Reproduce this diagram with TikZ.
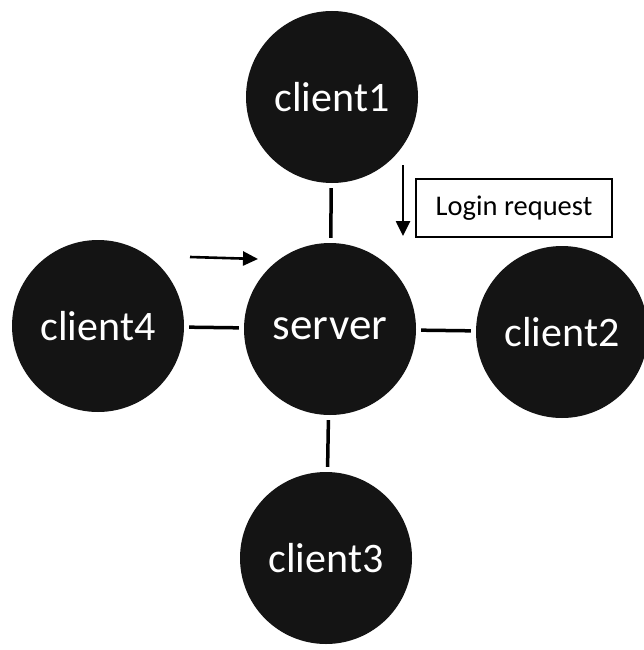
\documentclass[tikz,border=0pt]{standalone}
\usepackage{fontspec}
\setmainfont{Carlito}
\usetikzlibrary{arrows.meta}
\definecolor{disc}{gray}{0.08}
\tikzset{
  host/.style={circle, fill=disc, draw=none, minimum size=172pt, inner sep=0pt,
               text=white, font=\fontsize{42}{46}\selectfont},
  link/.style={line width=3.5pt, shorten <=5pt, shorten >=5pt},
  flow/.style={line width=2.6pt, -{Triangle[length=15pt,width=14pt]}},
  tag/.style={draw, line width=1.6pt, minimum width=196pt, minimum height=58pt,
              inner sep=0pt, font=\fontsize{28.5}{32}\selectfont}
}
\begin{document}
\begin{tikzpicture}[x=1pt,y=-1pt]
  \useasboundingbox (0,0) rectangle (644,650);
  % hosts
  \node[host] (server)  at (330,329) {\fontsize{45}{50}\selectfont server};
  \node[host] (client1) at (332,97)  {client1};
  \node[host] (client2) at (562,332) {client2};
  \node[host] (client3) at (326,558) {client3};
  \node[host] (client4) at (98,326)  {client4};
  % links to the server
  \draw[link] (client1) -- (server);
  \draw[link] (server) -- (client2);
  \draw[link] (server) -- (client3);
  \draw[link] (client4) -- (server);
  % request label and direction arrows
  \node[tag] (req) at (514,208) {Login request};
  \coordinate (d1) at (403,165);
  \coordinate (d2) at (403,236);
  \draw[flow] (d1) -- (d2);
  \coordinate (h1) at (190,257);
  \coordinate (h2) at (258,259);
  \draw[flow] (h1) -- (h2);
\end{tikzpicture}
\end{document}
